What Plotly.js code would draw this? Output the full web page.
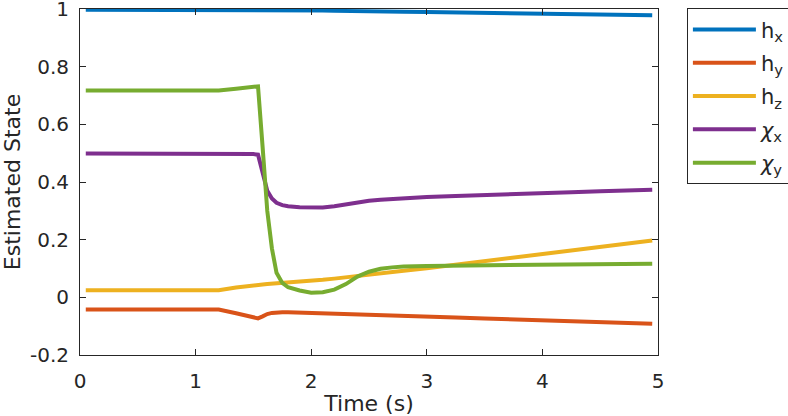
<!DOCTYPE html>
<html>
<head>
<meta charset="utf-8">
<script src="https://cdn.plot.ly/plotly-3.0.1.min.js"></script>
<style>
  html, body { margin: 0; padding: 0; background: #fff; }
  #chart { width: 788px; height: 416px; }
</style>
</head>
<body>
<div id="chart"></div>
<script>
// time samples (s)
const time = [0.05, 0.6, 1.2, 1.35, 1.5, 1.54, 1.58, 1.62, 1.66, 1.70, 1.75, 1.80, 1.90, 2.00, 2.10, 2.20, 2.30, 2.40, 2.50, 2.60, 2.70, 2.80, 3.00, 3.25, 3.50, 3.75, 4.00, 4.25, 4.50, 4.75, 4.95];

// estimated states
const hX = [0.998, 0.998, 0.997, 0.997, 0.996, 0.996, 0.996, 0.996, 0.996, 0.996, 0.996, 0.996, 0.995, 0.995, 0.995, 0.994, 0.994, 0.993, 0.993, 0.992, 0.992, 0.991, 0.990, 0.989, 0.988, 0.987, 0.986, 0.984, 0.983, 0.981, 0.979];
const hY = [-0.042, -0.042, -0.042, -0.055, -0.068, -0.073, -0.066, -0.058, -0.054, -0.052, -0.052, -0.052, -0.053, -0.054, -0.055, -0.057, -0.059, -0.060, -0.061, -0.062, -0.063, -0.064, -0.067, -0.070, -0.073, -0.076, -0.079, -0.082, -0.085, -0.089, -0.092];
const hZ = [0.025, 0.025, 0.025, 0.034, 0.043, 0.045, 0.045, 0.046, 0.047, 0.048, 0.049, 0.051, 0.054, 0.057, 0.061, 0.065, 0.070, 0.074, 0.079, 0.084, 0.088, 0.092, 0.101, 0.113, 0.125, 0.137, 0.149, 0.161, 0.173, 0.186, 0.197];
const chiX = [0.499, 0.499, 0.499, 0.498, 0.497, 0.495, 0.430, 0.370, 0.343, 0.328, 0.320, 0.316, 0.313, 0.311, 0.312, 0.316, 0.323, 0.330, 0.335, 0.339, 0.342, 0.344, 0.348, 0.352, 0.356, 0.359, 0.362, 0.365, 0.368, 0.371, 0.373];
const chiY = [0.718, 0.718, 0.718, 0.724, 0.730, 0.732, 0.520, 0.300, 0.170, 0.085, 0.050, 0.035, 0.024, 0.016, 0.018, 0.027, 0.046, 0.072, 0.089, 0.099, 0.104, 0.107, 0.109, 0.110, 0.111, 0.112, 0.113, 0.114, 0.115, 0.116, 0.117];

const seriesNames = ['h<sub>x</sub>', 'h<sub>y</sub>', 'h<sub>z</sub>', '<i>χ</i><sub>x</sub>', '<i>χ</i><sub>y</sub>'];
const seriesValues = [hX, hY, hZ, chiX, chiY];
const colors = ['#0072BD', '#D95319', '#EDB120', '#7E2F8E', '#77AC30'];

const yTicks = [-0.2, 0, 0.2, 0.4, 0.6, 0.8, 1];
const yTickText = ['-0.2', '0', '0.2', '0.4', '0.6', '0.8', '1'];
const xTicks = [0, 1, 2, 3, 4, 5];
const xTickText = ['0', '1', '2', '3', '4', '5'];

const FONT = 'DejaVu Sans';
const INK = '#262626';

let traces = [];
for (let i = 0; i < seriesValues.length; i++) {
  traces.push({
    x: time,
    y: seriesValues[i],
    name: seriesNames[i],
    legendgroup: 'g' + i, // own group each, so tracegroupgap spaces the entries
    type: 'scatter',
    mode: 'lines',
    line: { color: colors[i], width: 4 }
  });
}

let axisBase = {
  showgrid: false,
  zeroline: false,
  showline: true,
  linecolor: INK,
  linewidth: 1,
  mirror: 'ticks',
  ticks: 'inside',
  ticklen: 6,
  tickwidth: 1,
  tickcolor: INK,
  ticklabeloverflow: 'allow',
  tickfont: { family: FONT, size: 20, color: INK }
};

let layout = {
  width: 788,
  height: 416,
  paper_bgcolor: '#fff',
  plot_bgcolor: '#fff',
  margin: { l: 80, r: 130, t: 9, b: 61, pad: 0, autoexpand: false },
  font: { family: FONT, color: INK },
  xaxis: Object.assign({}, axisBase, {
    range: [0, 5],
    tickvals: xTicks,
    ticktext: xTickText,
    ticklabelstandoff: 8,
    title: { text: 'Time (s)', font: { family: FONT, size: 22, color: INK }, standoff: 6 }
  }),
  yaxis: Object.assign({}, axisBase, {
    range: [-0.2, 1.0005],
    tickvals: yTicks,
    ticktext: yTickText,
    ticklabelstandoff: 6,
    title: { text: 'Estimated State', font: { family: FONT, size: 22, color: INK }, standoff: 8 }
  }),
  showlegend: true,
  legend: {
    x: 1.05,
    xanchor: 'left',
    y: 1.002,
    yanchor: 'top',
    bgcolor: '#fff',
    bordercolor: INK,
    borderwidth: 1,
    itemwidth: 63,
    tracegroupgap: 3,
    font: { family: FONT, size: 21, color: INK }
  }
};

Plotly.newPlot('chart', traces, layout, { staticPlot: true });
</script>
</body>
</html>
